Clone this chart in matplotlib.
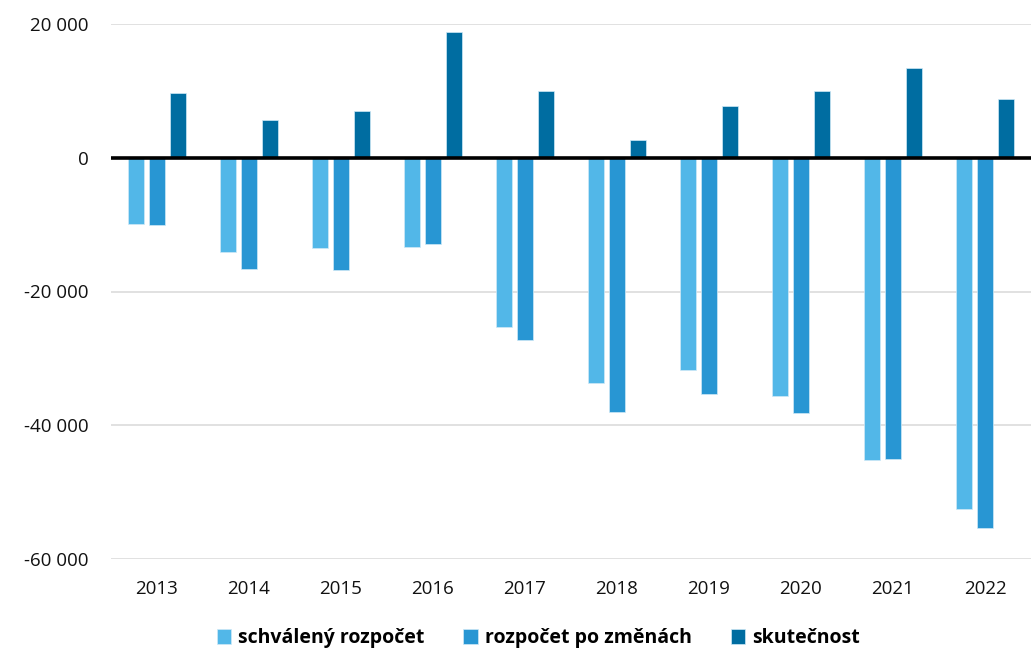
import numpy as np
import matplotlib
matplotlib.use("Agg")
from matplotlib import pyplot as plt
from matplotlib.ticker import FuncFormatter

plt.rcParams['font.family'] = ['Open Sans', 'DejaVu Sans']

years = ["2013", "2014", "2015", "2016", "2017", "2018", "2019", "2020", "2021", "2022"]
schvaleny = [-9900, -14050, -13450, -13300, -25250, -33650, -31800, -35600, -45150, -52500]
po_zmenach = [-10100, -16650, -16800, -12950, -27300, -38000, -35300, -38150, -45000, -55400]
skutecnost = [9750, 5600, 7050, 18800, 9950, 2700, 7800, 10000, 13350, 8850]

labels = ["schválený rozpočet", "rozpočet po změnách", "skutečnost"]
colors = ["#52B7E8", "#2896D3", "#006DA1"]

fig = plt.figure(figsize=(10.31, 6.49), dpi=100)
ax = fig.add_axes([111 / 1031, 90 / 649, 920 / 1031, 535 / 649])

x = np.arange(len(years))
step = 0.228
width = 0.174
for i, (vals, lab, col) in enumerate(zip([schvaleny, po_zmenach, skutecnost], labels, colors)):
    ax.bar(x + (i - 1) * step, vals, width, color=col, label=lab,
           edgecolor="#cfe9f7", linewidth=0.5, zorder=2)

ax.set_xlim(-0.5, len(years) - 0.5)
ax.set_ylim(-60000, 20000)
ax.set_yticks([-60000, -40000, -20000, 0, 20000])
ax.yaxis.set_major_formatter(FuncFormatter(lambda v, p: f"{int(v):,}".replace(",", " ")))
ax.set_xticks(x)
ax.set_xticklabels(years)
ax.grid(axis="y", color="#dcdcdc", linewidth=1.2, zorder=0)
ax.axhline(0, color="black", linewidth=2.6, zorder=3)

for s in ax.spines.values():
    s.set_visible(False)
ax.tick_params(axis="both", length=0, labelsize=13.5, colors="#111111")
ax.tick_params(axis="y", pad=16)
ax.tick_params(axis="x", pad=15)

leg = fig.legend(loc="lower center", bbox_to_anchor=(0.522, -0.026), ncol=3, frameon=False,
                 prop={"weight": "bold", "size": 14}, handlelength=0.75, handleheight=0.75,
                 handletextpad=0.35, columnspacing=2.0)

fig.savefig("out.png", dpi=100)
